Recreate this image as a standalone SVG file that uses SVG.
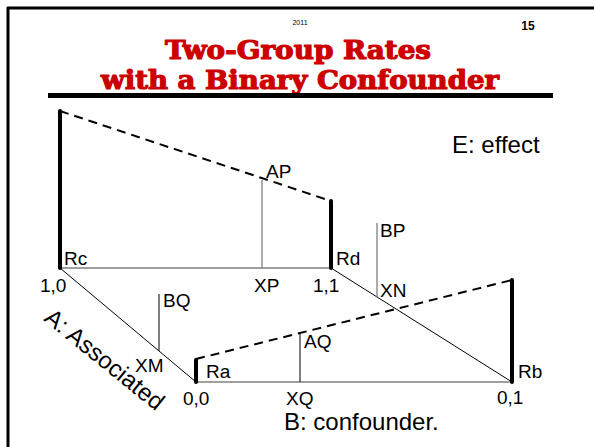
<svg xmlns="http://www.w3.org/2000/svg" width="594" height="447" viewBox="0 0 594 447">
<style>
.lbl{font-family:"Liberation Sans",Arial,sans-serif;font-size:19px;fill:#000}
.big{font-family:"Liberation Sans",Arial,sans-serif;font-size:24px;fill:#000}
.title{font-family:"DejaVu Serif","Liberation Serif",serif;font-weight:bold;font-size:26px;fill:#cc0000;stroke:#cc0000;stroke-width:1.2;stroke-linejoin:round}
.bar{stroke:#000;stroke-width:4;stroke-linecap:round;fill:none}
.gray{stroke:#7f7f7f;stroke-width:1.3;fill:none}
.thin{stroke:#000;stroke-width:1;fill:none}
.dash{stroke:#000;stroke-width:2;stroke-dasharray:9 6;fill:none}
</style>
<rect width="594" height="447" fill="#fff"/>
<g id="frame">
<line x1="7" y1="8" x2="594" y2="8" stroke="#000" stroke-width="3"/>
<line x1="8" y1="7" x2="8" y2="447" stroke="#000" stroke-width="3"/>
</g>
<g id="header">
<text x="300" y="25" text-anchor="middle" font-family="Liberation Sans,Arial,sans-serif" font-size="7">2011</text>
<text x="528" y="30" text-anchor="middle" font-family="Liberation Sans,Arial,sans-serif" font-size="12" font-weight="bold">15</text>
<text class="title" x="298" y="59" text-anchor="middle" textLength="266" lengthAdjust="spacingAndGlyphs">Two-Group Rates</text>
<text class="title" x="300" y="89" text-anchor="middle" textLength="398" lengthAdjust="spacingAndGlyphs">with a Binary Confounder</text>
<rect x="48" y="93" width="505" height="5" fill="#000"/>
</g>
<g id="connectors">
<line class="gray" x1="60" y1="268" x2="331" y2="268"/>
<line class="gray" x1="196" y1="382" x2="512" y2="382"/>
<line class="thin" x1="60" y1="268" x2="196" y2="382"/>
<line class="thin" x1="331" y1="268" x2="512" y2="382"/>
<line class="dash" x1="60" y1="111" x2="331" y2="201"/>
<line class="dash" x1="196" y1="359" x2="512" y2="280"/>
<line class="gray" x1="262" y1="180" x2="262" y2="268"/>
<line class="gray" x1="377" y1="223" x2="377" y2="297"/>
<line class="thin" x1="300" y1="333" x2="300" y2="382"/>
<line class="thin" x1="159" y1="294" x2="159" y2="351"/>
</g>
<g id="Rc">
<line class="bar" x1="60" y1="111" x2="60" y2="268"/>
<text class="lbl" x="64" y="265">Rc</text>
<text class="lbl" x="40" y="292">1,0</text>
</g>
<g id="Rd">
<line class="bar" x1="331" y1="201" x2="331" y2="268"/>
<text class="lbl" x="336" y="265">Rd</text>
<text class="lbl" x="313" y="292">1,1</text>
</g>
<g id="Ra">
<line class="bar" x1="196" y1="360" x2="196" y2="382"/>
<text class="lbl" x="206" y="378">Ra</text>
<text class="lbl" x="183" y="405">0,0</text>
</g>
<g id="Rb">
<line class="bar" x1="512" y1="280" x2="512" y2="382"/>
<text class="lbl" x="518" y="378">Rb</text>
<text class="lbl" x="497" y="404">0,1</text>
</g>
<g id="AP"><text class="lbl" x="266" y="178">AP</text></g>
<g id="XP"><text class="lbl" x="254" y="292">XP</text></g>
<g id="BP"><text class="lbl" x="380" y="237">BP</text></g>
<g id="XN"><text class="lbl" x="380" y="297">XN</text></g>
<g id="AQ"><text class="lbl" x="304" y="348">AQ</text></g>
<g id="XQ"><text class="lbl" x="286" y="405">XQ</text></g>
<g id="BQ"><text class="lbl" x="163" y="307">BQ</text></g>
<g id="XM"><text class="lbl" x="135" y="372">XM</text></g>
<g id="axes">
<text class="big" x="452" y="153" font-size="25">E: effect</text>
<text class="big" x="284" y="430">B: confounder.</text>
<text class="big" transform="translate(43,320) rotate(39)" font-size="25">A: Associated</text>
</g>
</svg>
